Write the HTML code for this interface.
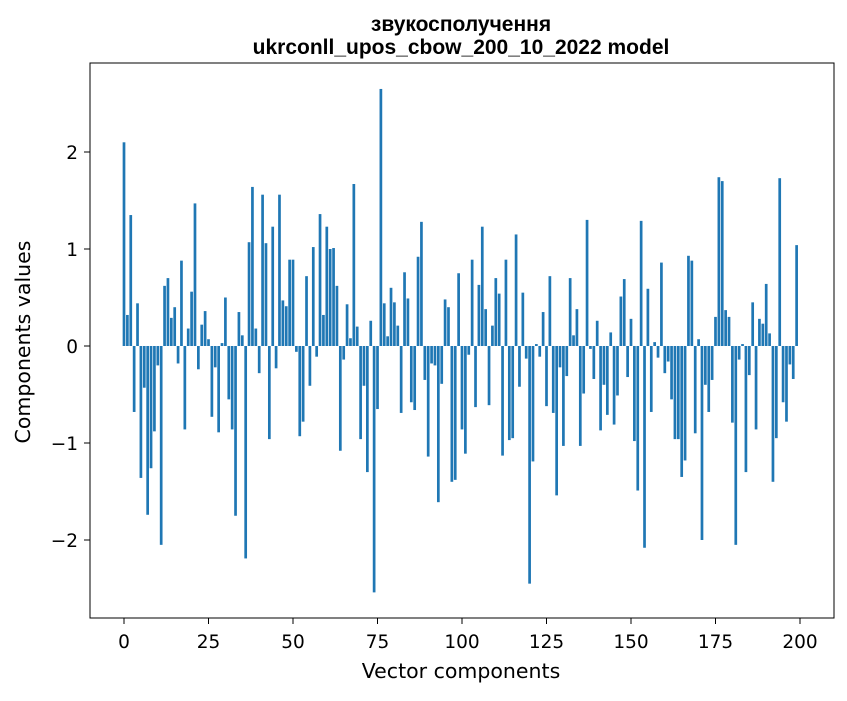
<!DOCTYPE html>
<html><head><meta charset="utf-8"><style>
body{margin:0;background:#fff;}
svg text{font-family:"DejaVu Sans","Liberation Sans",sans-serif;fill:#000;}
svg text.ttl{font-family:"Liberation Sans","DejaVu Sans",sans-serif;}
</style></head><body>
<svg id="chart" width="847" height="696" xmlns="http://www.w3.org/2000/svg">
<rect width="847" height="696" fill="#fff"/>
<text class="ttl" x="461" y="31" text-anchor="middle" font-size="21" font-weight="bold">звукосполучення</text>
<text class="ttl" x="461" y="54" text-anchor="middle" font-size="21" font-weight="bold">ukrconll_upos_cbow_200_10_2022 model</text>
<g id="bars"></g>
<g id="axes"></g>
<rect x="90" y="63" width="744" height="555" fill="none" stroke="#000" stroke-width="1"/>
<text x="461" y="678" text-anchor="middle" font-size="20.5">Vector components</text>
<text transform="translate(30,342) rotate(-90)" text-anchor="middle" font-size="20.5">Components values</text>
</svg>
<script>
const values = [2.10,0.32,1.35,-0.68,0.44,-1.36,-0.43,-1.74,-1.26,-0.88,
-0.20,-2.05,0.62,0.70,0.29,0.40,-0.18,0.88,-0.86,0.18,
0.56,1.47,-0.24,0.22,0.36,0.07,-0.73,-0.22,-0.89,0.03,
0.50,-0.55,-0.86,-1.75,0.35,0.11,-2.19,1.07,1.64,0.18,
-0.28,1.56,1.06,-0.96,1.23,-0.23,1.56,0.47,0.41,0.89,
0.89,-0.06,-0.93,-0.78,0.72,-0.41,1.02,-0.11,1.36,0.32,
1.23,1.00,1.01,0.62,-1.08,-0.14,0.43,0.08,1.67,0.20,
-0.96,-0.41,-1.30,0.26,-2.54,-0.65,2.65,0.44,0.10,0.60,
0.45,0.21,-0.69,0.76,0.49,-0.58,-0.66,0.92,1.28,-0.35,
-1.14,-0.18,-0.20,-1.61,-0.39,0.48,0.40,-1.40,-1.38,0.75,
-0.86,-1.11,-0.09,0.89,-0.63,0.63,1.23,0.38,-0.61,0.21,
0.70,0.54,-1.13,0.89,-0.97,-0.95,1.15,-0.42,0.55,-0.13,
-2.45,-1.19,0.02,-0.11,0.35,-0.62,0.72,-0.69,-1.54,-0.22,
-1.03,-0.31,0.70,0.11,0.38,-1.03,-0.49,1.30,-0.03,-0.34,
0.26,-0.87,-0.40,-0.71,0.14,-0.81,-0.51,0.51,0.69,-0.32,
0.28,-0.98,-1.49,1.29,-2.08,0.59,-0.68,0.04,-0.12,0.86,
-0.28,-0.16,-0.55,-0.96,-0.96,-1.35,-1.18,0.93,0.88,-0.90,
0.07,-2.00,-0.40,-0.68,-0.35,0.30,1.74,1.70,0.37,0.30,
-0.79,-2.05,-0.14,0.02,-1.30,-0.30,0.45,-0.86,0.28,0.23,
0.64,0.13,-1.40,-0.95,1.73,-0.58,-0.78,-0.19,-0.34,1.04];
const xTicks = [0,25,50,75,100,125,150,175,200];
const yTicks = [-2,-1,0,1,2];
const yTickLabels = ["\u22122","\u22121","0","1","2"];

const NS="http://www.w3.org/2000/svg";
const X0=90,X1=834,XMIN=-10.06,XMAX=210.06;
const Y0=346,YS=97;
function xs(v){return X0+(v-XMIN)/(XMAX-XMIN)*(X1-X0);}
function ys(v){return Y0-v*YS;}
const bars=document.getElementById('bars');
values.forEach((v,i)=>{
  const r=document.createElementNS(NS,'rect');
  
  
  const xa=xs(i-0.4),xb=xs(i+0.4);
  r.setAttribute('x',xa);r.setAttribute('width',xb-xa);
  r.setAttribute('y',Math.min(ys(v),ys(0)));
  r.setAttribute('height',Math.abs(ys(v)-ys(0)));
  r.setAttribute('fill','#1f77b4');
  bars.appendChild(r);
});
const axes=document.getElementById('axes');
xTicks.forEach(t=>{
  const l=document.createElementNS(NS,'line');
  
  
  l.setAttribute('x1',xs(t));l.setAttribute('x2',xs(t));
  l.setAttribute('y1',618);l.setAttribute('y2',624);
  l.setAttribute('stroke','#000');
  axes.appendChild(l);
  const tx=document.createElementNS(NS,'text');
  
  
  tx.setAttribute('x',xs(t));tx.setAttribute('y',648);
  tx.setAttribute('text-anchor','middle');tx.setAttribute('font-size','18.5');
  tx.textContent=String(t);
  axes.appendChild(tx);
});
yTicks.forEach((t,k)=>{
  const l=document.createElementNS(NS,'line');
  
  
  l.setAttribute('x1',84);l.setAttribute('x2',90);
  l.setAttribute('y1',ys(t));l.setAttribute('y2',ys(t));
  l.setAttribute('stroke','#000');
  axes.appendChild(l);
  const tx=document.createElementNS(NS,'text');
  
  
  tx.setAttribute('x',78);tx.setAttribute('y',ys(t)+7);
  tx.setAttribute('text-anchor','end');tx.setAttribute('font-size','18.5');
  tx.textContent=yTickLabels[k];
  axes.appendChild(tx);
});
</script>
</body></html>
